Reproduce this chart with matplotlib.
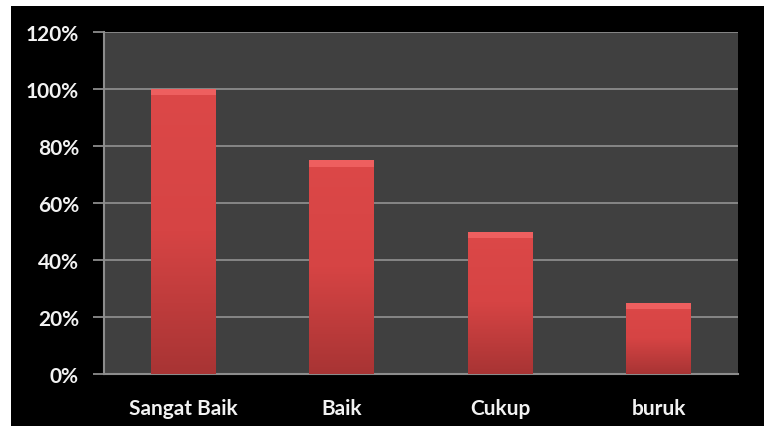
import matplotlib.pyplot as plt
import matplotlib.patches as mpatches
import numpy as np

plt.rcParams['font.family'] = ['Lato', 'DejaVu Sans']

categories = ['Sangat Baik', 'Baik', 'Cukup', 'buruk']
values = [100, 75, 50, 25]
yticks = [0, 20, 40, 60, 80, 100, 120]

W, H = 764, 427
fig = plt.figure(figsize=(W / 100, H / 100), dpi=100, facecolor='white')
# black chart background (screenshot has white strip at top/left)
fig.add_artist(mpatches.Rectangle((11 / W, 0), 1 - 11 / W, 1 - 7 / H,
                                  transform=fig.transFigure, facecolor='black',
                                  edgecolor='none', zorder=-10))

ax = fig.add_axes([104 / W, 1 - 375 / H, (738 - 104) / W, (375 - 33) / H])
ax.set_facecolor('#404040')

x = np.arange(len(categories))
bars = ax.bar(x, values, width=0.41, color='#d94545', zorder=3)

# vertical gradient + lighter top bevel on each bar
grad = np.linspace(0, 1, 256).reshape(-1, 1)
cmap = plt.matplotlib.colors.LinearSegmentedColormap.from_list(
    'redgrad', ['#a83434', '#d64444', '#dc4848'])
for b in bars:
    x0, y0 = b.get_x(), b.get_y()
    w, h = b.get_width(), b.get_height()
    im = ax.imshow(grad, cmap=cmap, aspect='auto', origin='lower',
                   extent=[x0, x0 + w, y0, y0 + h], zorder=4)
    im.set_clip_path(b)
    ax.add_patch(mpatches.Rectangle((x0, y0 + h - 2.2), w, 2.2,
                                    facecolor='#ee5f5f', edgecolor='none', zorder=5))

ax.set_xlim(-0.5, len(categories) - 0.5)
ax.set_ylim(0, 120)
ax.set_yticks(yticks)
ax.set_yticklabels([f'{v}%' for v in yticks])
ax.set_xticks(x)
ax.set_xticklabels(categories)
ax.yaxis.grid(True, color='#8c8c8c', linewidth=1.3, zorder=1)
ax.set_axisbelow(True)

for s in ['top', 'right']:
    ax.spines[s].set_visible(False)
for s in ['left', 'bottom']:
    ax.spines[s].set_color('#8c8c8c')
    ax.spines[s].set_linewidth(1.5)

for lbl in ax.get_xticklabels() + ax.get_yticklabels():
    lbl.set_fontweight('bold')

ax.tick_params(axis='y', colors='#8c8c8c', length=8, width=1.3, labelsize=15,
               labelcolor='#f2f2f2', pad=10)
ax.tick_params(axis='x', length=0, labelsize=15, labelcolor='#f2f2f2', pad=17)

fig.savefig('out.png', dpi=100, facecolor=fig.get_facecolor())
